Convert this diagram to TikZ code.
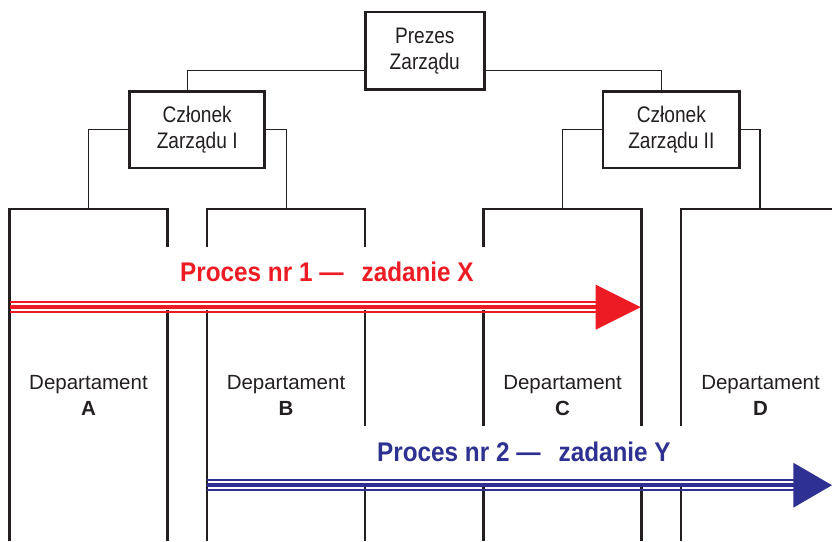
\documentclass[tikz,border=0pt]{standalone}
\usepackage{fontspec}
\setmainfont{Liberation Sans}
\newfontfamily\narrowfont[FakeStretch=0.85]{Liberation Sans}
\newfontfamily\procfont[FakeStretch=0.9]{Liberation Sans}
\usetikzlibrary{calc}
\definecolor{ink}{HTML}{231F20}
\definecolor{procred}{HTML}{ED1C24}
\definecolor{procblue}{HTML}{2E3192}

\begin{document}
\begin{tikzpicture}[x=1pt,y=-1pt,
  mgmt/.style={draw=ink, line width=2.7pt, inner sep=0pt, align=center, text=ink,
    font=\narrowfont\fontsize{22.5}{26}\selectfont},
  conn/.style={draw=ink, line width=1.3pt},
  deptframe/.style={draw=ink, line width=2.7pt},
  deptlabel/.style={align=center, text=ink, inner sep=0pt,
    font=\fontsize{20.5}{26}\selectfont},
  proclabel/.style={anchor=base west, inner sep=0pt,
    font=\procfont\bfseries\fontsize{27}{30}\selectfont},
  thinrail/.style={line width=2pt},
  thickrail/.style={line width=3.8pt}]

\useasboundingbox (0,0) rectangle (832,541);

% management boxes
\node[mgmt, minimum width=119pt, minimum height=77.3pt] (prezes) at (424.8,50.7) {Prezes\\Zarządu};
\node[mgmt, minimum width=135pt, minimum height=76.7pt] (czl1) at (197.2,129.7) {Członek\\Zarządu I};
\node[mgmt, minimum width=136.7pt, minimum height=76.7pt] (czl2) at (671.3,129.7) {Członek\\Zarządu II};

% tops of the department columns
\coordinate (topA) at (88.5,209);
\coordinate (topB) at (286.7,209);
\coordinate (topC) at (562.7,209);
\coordinate (topD) at (760,209);

% reporting lines
\draw[conn] ([yshift=-20pt]prezes.west) -| ([xshift=-9.9pt]czl1.north);
\draw[conn] ([yshift=-20pt]prezes.east) -| ([xshift=-9.6pt]czl2.north);
\draw[conn] (czl1.west) -| (topA);
\draw[conn] (czl1.east) -| (topB);
\draw[conn] (czl2.west) -| (topC);
\draw[conn] (czl2.east) -| (topD);

% department columns (open at the bottom, broken where the processes cross)
\draw[deptframe] (9.5,541) |- (167.5,209) -- (167.5,247);
\draw[deptframe] (167.5,310) -- (167.5,541);

\draw[deptframe] (207,247) |- (365,209) -- (365,247);
\draw[deptframe] (207,310) -- (207,541);
\draw[deptframe] (365,310) -- (365,425.6);
\draw[deptframe] (365,486.7) -- (365,541);

\draw[deptframe] (483.3,247) |- (641.7,209) -- (641.7,425.6);
\draw[deptframe] (483.3,310) -- (483.3,425.6);
\draw[deptframe] (483.3,486.7) -- (483.3,541);
\draw[deptframe] (641.7,486.7) -- (641.7,541);

\draw[deptframe] (681,425.6) |- (836,209);
\draw[deptframe] (681,486.7) -- (681,541);

% department names
\node[deptlabel] (depA) at (88.5,395.4) {Departament\\\textbf{A}};
\node[deptlabel] (depB) at (286,395.4) {Departament\\\textbf{B}};
\node[deptlabel] (depC) at (562.5,395.4) {Departament\\\textbf{C}};
\node[deptlabel] (depD) at (760.5,395.4) {Departament\\\textbf{D}};

% process 1
\node[proclabel, text=procred] (proc1) at (180,281.7) {Proces nr 1 —\hspace{18pt}zadanie X};
\coordinate (p1start) at (9.5,307.2);
\coordinate (p1tip) at (640.7,307.2);
\draw[procred, thickrail] (p1start) -- ($(p1tip)+(-44,0)$);
\draw[procred, thinrail] ($(p1start)+(0,-5)$) -- ($(p1tip)+(-44,-5)$);
\draw[procred, thinrail] ($(p1start)+(0,5)$) -- ($(p1tip)+(-44,5)$);
\fill[procred] (p1tip) -- ($(p1tip)+(-45,-22.5)$) -- ($(p1tip)+(-45,22.5)$) -- cycle;

% process 2
\node[proclabel, text=procblue] (proc2) at (377,461.7) {Proces nr 2 —\hspace{18pt}zadanie Y};
\coordinate (p2start) at (207,485.2);
\coordinate (p2tip) at (832,485.2);
\draw[procblue, thickrail] (p2start) -- ($(p2tip)+(-38,0)$);
\draw[procblue, thinrail] ($(p2start)+(0,-5)$) -- ($(p2tip)+(-38,-5)$);
\draw[procblue, thinrail] ($(p2start)+(0,5)$) -- ($(p2tip)+(-38,5)$);
\fill[procblue] (p2tip) -- ($(p2tip)+(-38.7,-22.5)$) -- ($(p2tip)+(-38.7,22.5)$) -- cycle;

\end{tikzpicture}
\end{document}
